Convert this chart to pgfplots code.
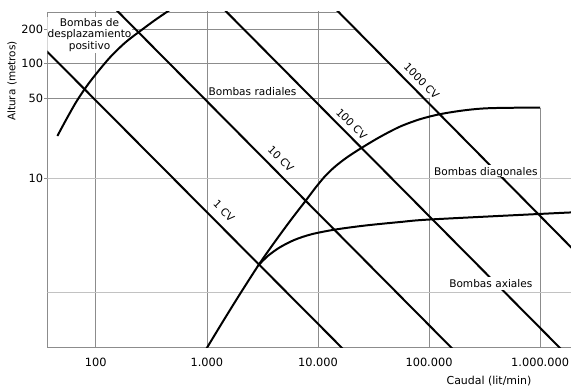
\documentclass[border=0pt]{standalone}
\usepackage{fontspec}
\setmainfont{DejaVu Sans}
\usepackage{pgfplots}
\pgfplotsset{compat=1.18}
\definecolor{gridc}{HTML}{8C8C8C}
\definecolor{gridl}{HTML}{C2C2C2}
\newcommand{\annfont}{\fontsize{10.6}{11.7}\selectfont}
\newcommand{\tickfont}{\fontsize{11.4}{12}\selectfont}
\begin{document}
\begin{tikzpicture}
\path[use as bounding box] (0,0) rectangle (571bp,388bp);
\begin{axis}[
  at={(47.3bp,41bp)}, anchor=south west,
  scale only axis, width=523.7bp, height=335bp,
  xmode=log, ymode=log,
  xmin=36.6, xmax=1.897e6, ymin=0.334, ymax=284,
  axis x line*=bottom, axis y line*=left,
  axis line style={draw=gridc, line width=0.75pt, -},
  xtick={100,1000,10000,100000,1000000},
  xticklabels={100,1.000,10.000,100.000,1.000.000},
  ytick={10,50,100,200},
  yticklabels={10,50,100,200},
  minor tick length=0pt,
  minor tick style={draw=none},
  xtick style={draw=none},
  ytick style={draw=gridc, line width=0.75pt},
  tick align=outside, major tick length=3bp,
  xticklabel style={font=\tickfont, anchor=north, inner sep=0pt, yshift=-7.5bp},
  yticklabel style={font=\tickfont, anchor=east, inner sep=0pt, xshift=-1bp},
  clip=true,
]
% ---- grid (dark) ----
\addplot[gridc, line width=0.75pt] coordinates {(100,0.3) (100,300)};
\addplot[gridc, line width=0.75pt] coordinates {(1000,0.3) (1000,300)};
\addplot[gridc, line width=0.75pt] coordinates {(10000,0.3) (10000,300)};
\addplot[gridc, line width=0.75pt] coordinates {(100000,0.3) (100000,50)};
\addplot[gridc, line width=0.75pt] coordinates {(1000000,0.3) (1000000,41.5)};
\addplot[gridc, line width=0.75pt] coordinates {(30,282) (15350,282)};
\addplot[gridc, line width=0.75pt] coordinates {(30,200) (21920,200)};
\addplot[gridc, line width=0.75pt] coordinates {(30,100) (44360,100)};
\addplot[gridc, line width=0.75pt] coordinates {(30,50) (100000,50)};
% ---- grid (light) ----
\addplot[gridl, line width=0.75pt] coordinates {(30,10) (2000000,10)};
\addplot[gridl, line width=0.75pt] coordinates {(30,1) (2000000,1)};
% ---- label of positive displacement pumps ----
\node[fill=white, inner sep=1bp, align=center, font=\annfont] at (rel axis cs:0.0806,0.9313)
  {Bombas de\\desplazamiento\\positivo};
% ---- power lines ----
\addplot[black, line width=2pt] coordinates {(25.1,184.3) (25119,0.2169)};
\addplot[black, line width=2pt] coordinates {(100,449) (251189,0.2104)};
\addplot[black, line width=2pt] coordinates {(1000,424.2) (2512000,0.1989)};
\addplot[black, line width=2pt] coordinates {(10000,432.5) (3162000,1.507)};
% ---- positive displacement curve ----
\addplot[black, line width=2pt, smooth, tension=0.5] table {
45.1 23.4
54.0 32.4
66.5 46.3
81.8 62.7
100.6 81.6
134.5 114.1
183.5 153.1
250.4 193.4
341.8 241.6
486.1 305.2
};
% ---- radial / diagonal curve ----
\addplot[black, line width=2pt, smooth, tension=0.5] table {
985 0.32
1408 0.567
1990 0.974
2908 1.73
3707 2.43
4882 3.52
6221 4.82
7655 6.25
9417 8.165
11585 10.41
14253 12.63
18280 15.22
24790 18.45
36220 22.97
54830 28.26
82990 32.8
125600 36.3
210900 39.3
354000 40.96
1000000 41.5
};
% ---- axial curve ----
\addplot[black, line width=2pt, smooth, tension=0.5] table {
2908 1.73
3555 2.097
4560 2.492
6221 2.901
8849 3.243
14253 3.553
26550 3.854
54830 4.137
102100 4.353
1000000 4.87
2000000 5.03
};
% ---- labels ----
\node[anchor=base, font=\annfont] at (rel axis cs:0.3918,0.7522) {Bombas radiales};
\node[anchor=base, fill=white, text depth=0pt, inner xsep=0.5bp, inner ysep=2bp, font=\annfont]
  at (rel axis cs:0.8375,0.5134) {Bombas diagonales};
\node[anchor=base, fill=white, text depth=0pt, inner xsep=0.5bp, inner ysep=2.5bp, font=\annfont]
  at (rel axis cs:0.8469,0.1782) {Bombas axiales};
\node[rotate=-45, font=\annfont] at (rel axis cs:0.3374,0.406) {1 CV};
\node[rotate=-45, font=\annfont] at (rel axis cs:0.4462,0.5612) {10 CV};
\node[rotate=-45, font=\annfont] at (rel axis cs:0.5812,0.6657) {100 CV};
\node[rotate=-45, font=\annfont] at (rel axis cs:0.7149,0.7940) {1000 CV};
\end{axis}
\node[rotate=90, font=\fontsize{10.5}{12}\selectfont] at (12bp,307bp) {Altura (metros)};
\node[anchor=base, font=\fontsize{11}{12}\selectfont] at (489bp,3.5bp) {Caudal (lit/min)};
\end{tikzpicture}
\end{document}
